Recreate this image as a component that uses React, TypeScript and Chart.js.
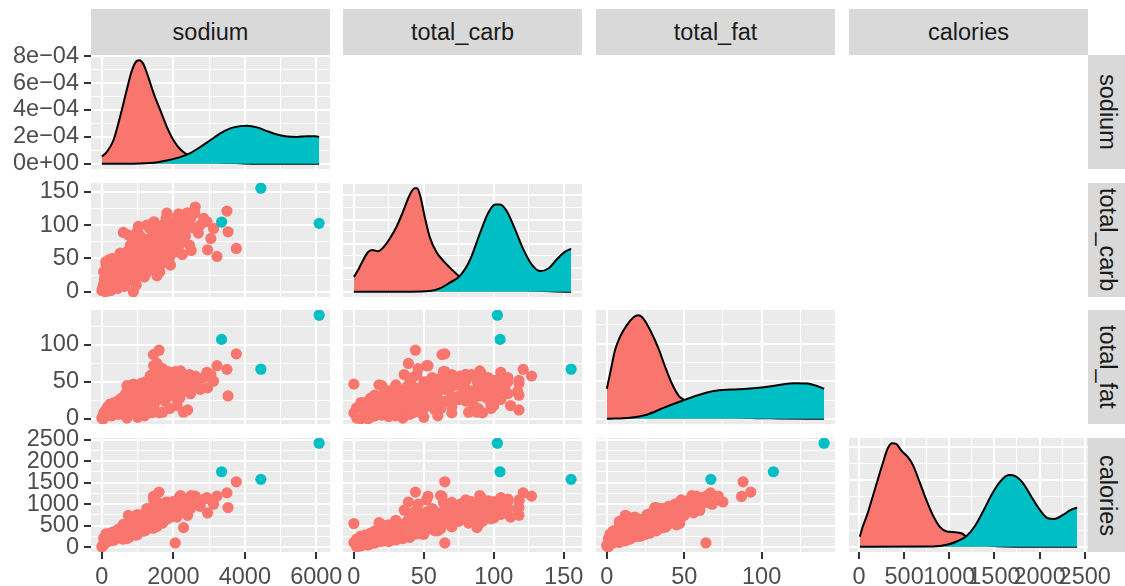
import React, { useEffect, useRef } from "react";
import { Chart, registerables } from "chart.js";

Chart.register(...registerables);

const FONT = '"Liberation Sans", Arial, Helvetica, sans-serif';
const RED = "#F8766D";
const TEAL = "#00BFC4";

const variableNames = ["sodium", "total_carb", "total_fat", "calories"];

// ---- scatter data: group 1 (red) ----
const redSodium = [
  20, 60, 100, 150, 180, 210, 250, 280, 310, 340, 380, 400, 420, 450, 470, 490, 120, 200, 300, 90, 0, 40, 70, 130, 230, 360, 440, 160,
  520, 540, 560, 580, 600, 620, 650, 680, 700, 720, 740, 760, 780, 800, 743, 550, 630, 690, 760, 700, 700, 510, 590, 670,
  820, 840, 860, 880, 900, 920, 940, 960, 980, 1000, 1020, 1040, 1060, 1080, 1100, 870, 950, 1000, 1050, 990, 910, 1030, 880, 960, 880, 1000, 1020, 850, 930, 1070, 820,
  1120, 1140, 1160, 1180, 1200, 1220, 1240, 1260, 1280, 1300, 1320, 1340, 1360, 1380, 1258, 1150, 1190, 1310, 1230, 1350, 1200, 1400, 1400, 1130, 1270, 1390,
  1420, 1444, 1600, 1539, 1450, 1480, 1500, 1520, 1560, 1580, 1600, 1640, 1660, 1680, 1460, 1700, 1540, 1700, 1600, 1700, 1470, 1620,
  1720, 1750, 1780, 1819, 1850, 1880, 1900, 1950, 1980, 1800, 1920, 1900, 1760, 1840,
  2052, 2020, 2080, 2120, 2160, 2200, 2285, 2380, 2250, 2320, 2450, 2100, 2400, 2150, 2200, 2060,
  2613, 2600, 2753, 2941, 2958, 3126, 3221, 3500, 3530, 3762, 2500,
  100, 140, 190, 240, 260, 330, 350, 390, 410, 460, 480, 500, 530, 570, 610, 640, 660, 710, 730, 770, 790, 810, 830, 860, 890, 920, 970, 1010, 1040, 1090,
  1110, 1170, 1210, 1250, 1290, 1330, 1370, 1410, 1430, 1490, 1510, 1550, 1570, 1610, 1650, 1690, 1730, 1770, 1810, 1860, 1890, 1940, 1990, 2030, 2090, 2140,
  2180, 2230, 2270, 2340, 2420, 2480, 2550, 2700, 2850, 3050, 50, 110,
];
const redCarb = [
  5, 12, 0, 20, 8, 15, 2, 30, 18, 25, 10, 35, 22, 40, 14, 28, 40, 48, 50, 25, 2, 10, 18, 30, 6, 42, 5, 36,
  30, 45, 20, 38, 89, 28, 50, 35, 60, 42, 24, 55, 32, 70, 85, 12, 8, 15, 18, 35, 20, 58, 24, 46,
  40, 48, 30, 55, 36, 62, 44, 28, 50, 70, 38, 46, 58, 34, 52, 75, 20, 42, 85, 90, 18, 25, 65, 10, 0, 50, 98, 44, 52, 40, 22,
  40, 56, 44, 66, 36, 50, 60, 30, 74, 46, 54, 95, 42, 62, 100, 80, 22, 100, 28, 70, 60, 70, 45, 48, 38, 56,
  48, 63, 44, 39, 52, 52, 70, 40, 58, 80, 36, 66, 48, 90, 105, 100, 24, 82, 92, 46, 60, 30,
  56, 72, 44, 118, 64, 86, 52, 76, 96, 110, 40, 98, 62, 50,
  65, 80, 60, 104, 91, 74, 88, 118, 56, 96, 70, 112, 118, 117, 90, 84,
  127, 118, 100, 105, 63, 95, 53, 121, 90, 65, 62,
  15, 8, 28, 20, 38, 12, 30, 20, 48, 30, 50, 18, 40, 30, 48, 18, 38, 28, 50, 40, 62, 30, 58, 20, 48, 38, 60, 30, 66, 44,
  62, 30, 48, 42, 58, 36, 80, 58, 38, 86, 62, 46, 72, 54, 78, 62, 88, 100, 78, 70, 104, 60, 84, 70, 96, 66,
  100, 80, 108, 84, 100, 110, 96, 88, 110, 80, 30, 45,
];
const redFat = [
  0, 2, 8, 5, 10, 12, 15, 4, 9, 14, 18, 8, 20, 12, 25, 16, 6, 10, 14, 3, 1, 0, 7, 10, 20, 18, 22, 16,
  18, 10, 24, 22, 14, 30, 16, 26, 20, 8, 36, 28, 18, 24, 30, 28, 22, 32, 12, 1, 45, 12, 6, 34,
  20, 26, 32, 18, 40, 22, 30, 24, 36, 16, 44, 20, 32, 28, 48, 26, 14, 10, 22, 34, 46, 38, 40, 20, 47, 2, 20, 12, 28, 24, 38,
  26, 34, 42, 24, 30, 50, 38, 46, 30, 22, 40, 28, 56, 44, 35, 40, 36, 18, 20, 58, 4, 8, 60, 16, 32, 28,
  36, 87, 93, 75, 72, 42, 30, 50, 46, 38, 60, 52, 34, 44, 26, 40, 28, 9, 8, 68, 20, 40,
  56, 48, 40, 32, 64, 36, 50, 58, 46, 50, 44, 14, 24, 30,
  64, 52, 40, 54, 62, 46, 9, 48, 50, 56, 60, 18, 12, 37, 65, 30,
  58, 52, 40, 63, 42, 51, 72, 67, 31, 88, 55,
  4, 12, 8, 6, 12, 10, 22, 12, 16, 6, 20, 14, 26, 10, 24, 16, 14, 18, 30, 22, 14, 28, 34, 26, 10, 20, 26, 18, 40, 36,
  14, 18, 28, 40, 46, 26, 24, 52, 20, 34, 40, 36, 56, 28, 30, 44, 54, 30, 40, 50, 40, 36, 60, 44, 40, 56,
  28, 60, 44, 38, 52, 34, 46, 50, 56, 60, 8, 12,
];
const redCal = [
  30, 80, 110, 140, 150, 200, 190, 170, 190, 250, 240, 230, 310, 290, 300, 300, 230, 310, 350, 130, 10, 50, 140, 220, 250, 350, 260, 300,
  340, 320, 340, 400, 530, 420, 380, 420, 480, 290, 450, 530, 350, 600, 740, 330, 280, 380, 230, 200, 520, 380, 190, 530,
  410, 480, 460, 430, 540, 520, 500, 400, 580, 480, 600, 430, 600, 460, 700, 600, 280, 330, 640, 760, 570, 520, 680, 290, 550, 300, 660, 350, 520, 460, 470,
  500, 620, 640, 580, 520, 760, 700, 620, 680, 500, 700, 760, 800, 780, 900, 760, 500, 680, 400, 900, 380, 480, 860, 440, 560, 600,
  660, 1180, 1280, 1050, 1100, 720, 700, 740, 780, 800, 860, 880, 640, 880, 760, 900, 480, 560, 600, 1000, 560, 620,
  900, 900, 700, 920, 1040, 840, 820, 1000, 960, 1050, 700, 700, 640, 660,
  100, 960, 780, 1053, 1155, 900, 455, 1100, 860, 1080, 1040, 700, 742, 900, 1200, 780,
  1186, 1080, 950, 1150, 796, 1000, 1186, 1263, 922, 1520, 1200,
  100, 150, 200, 150, 290, 160, 350, 220, 380, 210, 430, 230, 420, 260, 450, 260, 330, 330, 540, 420, 430, 440, 600, 380, 340, 400, 560, 360, 720, 600,
  450, 380, 560, 640, 760, 500, 640, 820, 440, 760, 760, 640, 920, 600, 700, 800, 960, 800, 820, 900, 920, 720, 1060, 860, 880, 980,
  780, 1080, 1000, 860, 1060, 900, 1000, 1020, 1120, 1100, 210, 310,
];

// ---- scatter data: group 2 (teal) ----
const tealSodium = [6080, 3350, 4450];
const tealCarb = [102.6, 104.5, 155.3];
const tealFat = [140.4, 107.6, 67.2];
const tealCal = [2416, 1753, 1576];

// ---- density curves ----
const sodiumDensRedX = [0, 140, 324, 510, 697, 837, 978, 1052, 1164, 1304, 1444, 1631, 1818, 2005, 2192, 2379, 2600, 2900, 3300, 3700, 4200, 6080];
const sodiumDensRedY = [5.5e-5, 8.8e-5, 1.75e-4, 3.5e-4, 5.5e-4, 6.9e-4, 7.65e-4, 7.7e-4, 7.4e-4, 6.4e-4, 5.27e-4, 4.0e-4, 2.75e-4, 1.75e-4, 1.08e-4, 7e-5, 4e-5, 2e-5, 1e-5, 6e-6, 1e-6, 0];
const sodiumDensTealX = [0, 800, 1444, 1818, 2192, 2472, 2753, 3033, 3314, 3594, 3874, 4061, 4342, 4622, 4902, 5183, 5463, 5743, 5977, 6080];
const sodiumDensTealY = [0, 1e-6, 7.5e-6, 2.5e-5, 5e-5, 8e-5, 1.25e-4, 1.75e-4, 2.26e-4, 2.63e-4, 2.8e-4, 2.83e-4, 2.71e-4, 2.43e-4, 2.18e-4, 2.03e-4, 2.0e-4, 2.05e-4, 2.05e-4, 2.0e-4];

const carbDensRedX = [0, 2.8, 6.4, 10, 13.1, 17.2, 20.7, 25.6, 30.4, 35.1, 39.9, 43.5, 45.2, 47.6, 50.7, 54.3, 59.1, 65, 71, 75.8, 85, 95, 110, 125, 140, 155.3];
const carbDensRedY = [0.0031, 0.0044, 0.00645, 0.0082, 0.0087, 0.0084, 0.0091, 0.011, 0.01345, 0.0166, 0.0201, 0.0215, 0.0215, 0.0197, 0.0155, 0.0113, 0.0082, 0.0061, 0.00435, 0.0031, 0.0018, 0.001, 0.0006, 0.0003, 0.0001, 0];
const carbDensTealX = [0, 40, 54.3, 61.5, 68.6, 75.8, 83, 90.2, 96.1, 100.9, 104.5, 109.3, 115.3, 121.3, 127.3, 133.3, 139.3, 145.3, 151.3, 155.3];
const carbDensTealY = [0, 0.00002, 0.00015, 0.0007, 0.0019, 0.0033, 0.0066, 0.0122, 0.0164, 0.0181, 0.0181, 0.0167, 0.0129, 0.0087, 0.0056, 0.0043, 0.0049, 0.0068, 0.0084, 0.0089];

const fatDensRedX = [0, 2.5, 5.3, 8.5, 12.8, 17.1, 20.4, 23.6, 28, 33.4, 37.7, 42, 46.3, 49.6, 60, 75, 90, 110, 140.4];
const fatDensRedY = [0.008, 0.0129, 0.0183, 0.0218, 0.0249, 0.027, 0.0276, 0.0267, 0.0236, 0.0187, 0.0138, 0.0094, 0.0062, 0.0051, 0.002, 0.0008, 0.0003, 0.0001, 0];
const fatDensTealX = [0, 15, 25.8, 36.6, 47.4, 58.3, 69, 79.9, 90.7, 101.5, 112.3, 121, 129.7, 136.1, 140.4];
const fatDensTealY = [0, 0.0003, 0.0011, 0.0029, 0.0046, 0.0062, 0.0074, 0.0078, 0.008, 0.0084, 0.0091, 0.0095, 0.0094, 0.0087, 0.008];

const calDensRedX = [10, 38.5, 94, 150, 206, 262, 318, 367, 412, 468, 542, 598, 673, 748, 821, 896, 971, 1064, 1139, 1213, 1300, 1450, 1600, 2000, 2416];
const calDensRedY = [0.000152, 0.00029, 0.000495, 0.000747, 0.001, 0.00125, 0.00148, 0.00156, 0.00155, 0.00145, 0.00135, 0.00123, 0.00097, 0.0007, 0.00047, 0.0003, 0.00023, 0.00022, 0.0002, 0.00013, 0.00006, 0.00002, 0.000005, 0.000001, 0];
const calDensTealX = [10, 821, 971, 1083, 1195, 1288, 1381, 1475, 1568, 1661, 1736, 1810, 1903, 1996, 2090, 2164, 2258, 2351, 2416];
const calDensTealY = [0, 0.000005, 0.00003, 0.00008, 0.000167, 0.00032, 0.00055, 0.0008, 0.00099, 0.00108, 0.00106, 0.00097, 0.00077, 0.00057, 0.00043, 0.00042, 0.00048, 0.00056, 0.00059];

// ---- axis breaks ----
const sodiumMajor = [0, 2000, 4000, 6000];
const sodiumMinor = [1000, 3000, 5000];
const carbMajor = [0, 50, 100, 150];
const carbMinor = [25, 75, 125];
const fatMajor = [0, 50, 100];
const fatMinor = [25, 75, 125];
const calMajor = [0, 500, 1000, 1500, 2000, 2500];
const calMinor = [250, 750, 1250, 1750, 2250];
const sodiumDensMajor = [0, 0.0002, 0.0004, 0.0006, 0.0008];
const sodiumDensMinor = [0.0001, 0.0003, 0.0005, 0.0007];
const sodiumDensLabels = ["0e+00", "2e\u221204", "4e\u221204", "6e\u221204", "8e\u221204"];
const carbDensMajor = [0, 0.005, 0.01, 0.015, 0.02];
const carbDensMinor = [0.0025, 0.0075, 0.0125, 0.0175, 0.0225];
const fatDensMajor = [0, 0.01, 0.02];
const fatDensMinor = [0.005, 0.015, 0.025];
const calDensMajor = [0, 0.0005, 0.001, 0.0015];
const calDensMinor = [0.00025, 0.00075, 0.00125];

// ---- layout ----
const COL_LEFT = [91, 343, 596, 849];
const ROW_TOP = [55, 183, 310, 438];
const PW = 239;
const PH = 114;
const Y_AXIS_W = 91;
const X_AXIS_H = 34;
const PAD = 30;
const FONT_SIZE = 23.5;

type AxisDef = { min: number; max: number; major: number[]; minor: number[]; labels?: string[] };

function padRange(values: number[]): [number, number] {
  const lo = Math.min(...values);
  const hi = Math.max(...values);
  const p = (hi - lo) * 0.05;
  return [lo - p, hi + p];
}

const scatterX = [
  { red: redSodium, teal: tealSodium, major: sodiumMajor, minor: sodiumMinor },
  { red: redCarb, teal: tealCarb, major: carbMajor, minor: carbMinor },
  { red: redFat, teal: tealFat, major: fatMajor, minor: fatMinor },
  { red: redCal, teal: tealCal, major: calMajor, minor: calMinor },
];

const densities = [
  { rx: sodiumDensRedX, ry: sodiumDensRedY, tx: sodiumDensTealX, ty: sodiumDensTealY, major: sodiumDensMajor, minor: sodiumDensMinor, labels: sodiumDensLabels },
  { rx: carbDensRedX, ry: carbDensRedY, tx: carbDensTealX, ty: carbDensTealY, major: carbDensMajor, minor: carbDensMinor, labels: undefined },
  { rx: fatDensRedX, ry: fatDensRedY, tx: fatDensTealX, ty: fatDensTealY, major: fatDensMajor, minor: fatDensMinor, labels: undefined },
  { rx: calDensRedX, ry: calDensRedY, tx: calDensTealX, ty: calDensTealY, major: calDensMajor, minor: calDensMinor, labels: undefined },
];

function varAxis(i: number): AxisDef {
  const v = scatterX[i];
  const [min, max] = padRange([...v.red, ...v.teal]);
  return { min, max, major: v.major, minor: v.minor };
}

function densAxis(i: number): AxisDef {
  const d = densities[i];
  const [min, max] = padRange([...d.ry, ...d.ty]);
  return { min, max, major: d.major, minor: d.minor, labels: d.labels };
}

function scaleOptions(axis: AxisDef, isX: boolean, show: boolean, size: number) {
  const isMajor = (v: number) => axis.major.some((m) => Math.abs(m - v) < 1e-12);
  return {
    type: "linear",
    position: isX ? "bottom" : "left",
    min: axis.min,
    max: axis.max,
    bounds: "data",
    afterBuildTicks: (s: any) => {
      s.ticks = [...axis.major, ...axis.minor]
        .filter((v) => v >= axis.min && v <= axis.max)
        .sort((a, b) => a - b)
        .map((v) => ({ value: v }));
    },
    afterFit: (s: any) => {
      if (isX) s.height = size;
      else s.width = size;
    },
    border: { display: false },
    grid: {
      color: "#FFFFFF",
      lineWidth: (ctx: any) => (ctx.tick && isMajor(ctx.tick.value) ? 2 : 1),
      drawTicks: show,
      tickLength: 7,
      tickWidth: 2,
      tickColor: (ctx: any) => (ctx.tick && isMajor(ctx.tick.value) ? "#333333" : "rgba(0,0,0,0)"),
    },
    ticks: {
      display: show,
      autoSkip: false,
      maxRotation: 0,
      minRotation: 0,
      padding: isX ? 4 : 5,
      color: "#4D4D4D",
      font: { family: FONT, size: FONT_SIZE },
      callback: (value: number) => {
        const idx = axis.major.findIndex((m) => Math.abs(m - value) < 1e-12);
        if (idx < 0) return "";
        return axis.labels ? axis.labels[idx] : String(value);
      },
    },
  };
}

const panelBg = {
  id: "panelBg",
  beforeDraw(chart: any) {
    const { ctx, chartArea: a } = chart;
    ctx.save();
    ctx.fillStyle = "#EBEBEB";
    ctx.fillRect(a.left, a.top, a.right - a.left, a.bottom - a.top);
    ctx.restore();
  },
};

type PanelSpec = { r: number; c: number };
const PANELS: PanelSpec[] = [];
for (let r = 0; r < 4; r++) for (let c = 0; c <= r; c++) PANELS.push({ r, c });

function geom(p: PanelSpec) {
  const extraLeft = p.c === 0 ? Y_AXIS_W : 0;
  const extraBottom = p.r === 3 ? X_AXIS_H : 0;
  return {
    left: COL_LEFT[p.c] - extraLeft - PAD,
    top: ROW_TOP[p.r] - PAD,
    width: extraLeft + PW + 2 * PAD,
    height: PH + extraBottom + 2 * PAD,
    extraLeft,
    extraBottom,
  };
}

function densitySet(xs: number[], ys: number[], color: string, order: number) {
  return {
    type: "line",
    data: xs.map((x, i) => ({ x, y: ys[i] })),
    backgroundColor: color,
    borderColor: "#000000",
    borderWidth: 2,
    fill: "origin",
    pointRadius: 0,
    cubicInterpolationMode: "monotone",
    order,
    clip: 0,
  };
}

function scatterSet(xs: number[], ys: number[], color: string, order: number) {
  return {
    type: "scatter",
    data: xs.map((x, i) => ({ x, y: ys[i] })),
    backgroundColor: color,
    borderWidth: 0,
    pointRadius: 5.6,
    order,
    clip: 0,
  };
}

function buildConfig(p: PanelSpec): any {
  const g = geom(p);
  const xAxis = varAxis(p.c);
  const showX = p.r === 3;
  const showY = p.c === 0;
  let datasets: any[];
  let yAxis: AxisDef;
  if (p.r === p.c) {
    const d = densities[p.c];
    yAxis = densAxis(p.c);
    datasets = [densitySet(d.tx, d.ty, TEAL, 1), densitySet(d.rx, d.ry, RED, 2)];
  } else {
    const xs = scatterX[p.c];
    const ys = scatterX[p.r];
    yAxis = varAxis(p.r);
    datasets = [scatterSet(xs.teal, ys.teal, TEAL, 1), scatterSet(xs.red, ys.red, RED, 2)];
  }
  return {
    type: p.r === p.c ? "line" : "scatter",
    data: { datasets },
    plugins: [panelBg],
    options: {
      animation: false,
      responsive: false,
      maintainAspectRatio: false,
      events: [],
      layout: { padding: PAD },
      plugins: { legend: { display: false }, tooltip: { enabled: false } },
      scales: {
        x: scaleOptions(xAxis, true, showX, showX ? g.extraBottom : 0),
        y: scaleOptions(yAxis, false, showY, showY ? g.extraLeft : 0),
      },
    },
  };
}

const stripStyle: React.CSSProperties = {
  position: "absolute",
  background: "#D9D9D9",
  color: "#1A1A1A",
  fontFamily: FONT,
  fontSize: FONT_SIZE,
  display: "flex",
  alignItems: "center",
  justifyContent: "center",
  whiteSpace: "nowrap",
};

export default function App() {
  const refs = useRef<(HTMLCanvasElement | null)[]>([]);
  useEffect(() => {
    const charts = PANELS.map((p, i) => new Chart(refs.current[i] as HTMLCanvasElement, buildConfig(p)));
    return () => charts.forEach((c) => c.destroy());
  }, []);
  return (
    <div
      style={{
        position: "absolute",
        left: 0,
        top: 0,
        width: 1125,
        height: 586,
        overflow: "hidden",
        background: "#FFFFFF",
      }}
    >
      {variableNames.map((name, c) => (
        <div key={"t" + c} style={{ ...stripStyle, left: COL_LEFT[c], top: 9, width: PW, height: 46 }}>
          {name}
        </div>
      ))}
      {variableNames.map((name, r) => (
        <div key={"r" + r} style={{ ...stripStyle, left: 1088, top: ROW_TOP[r], width: 38, height: PH }}>
          <span style={{ writingMode: "vertical-rl" }}>{name}</span>
        </div>
      ))}
      {PANELS.map((p, i) => {
        const g = geom(p);
        return (
          <canvas
            key={"p" + i}
            ref={(el) => {
              refs.current[i] = el;
            }}
            width={g.width}
            height={g.height}
            style={{ position: "absolute", left: g.left, top: g.top, width: g.width, height: g.height }}
          />
        );
      })}
    </div>
  );
}
